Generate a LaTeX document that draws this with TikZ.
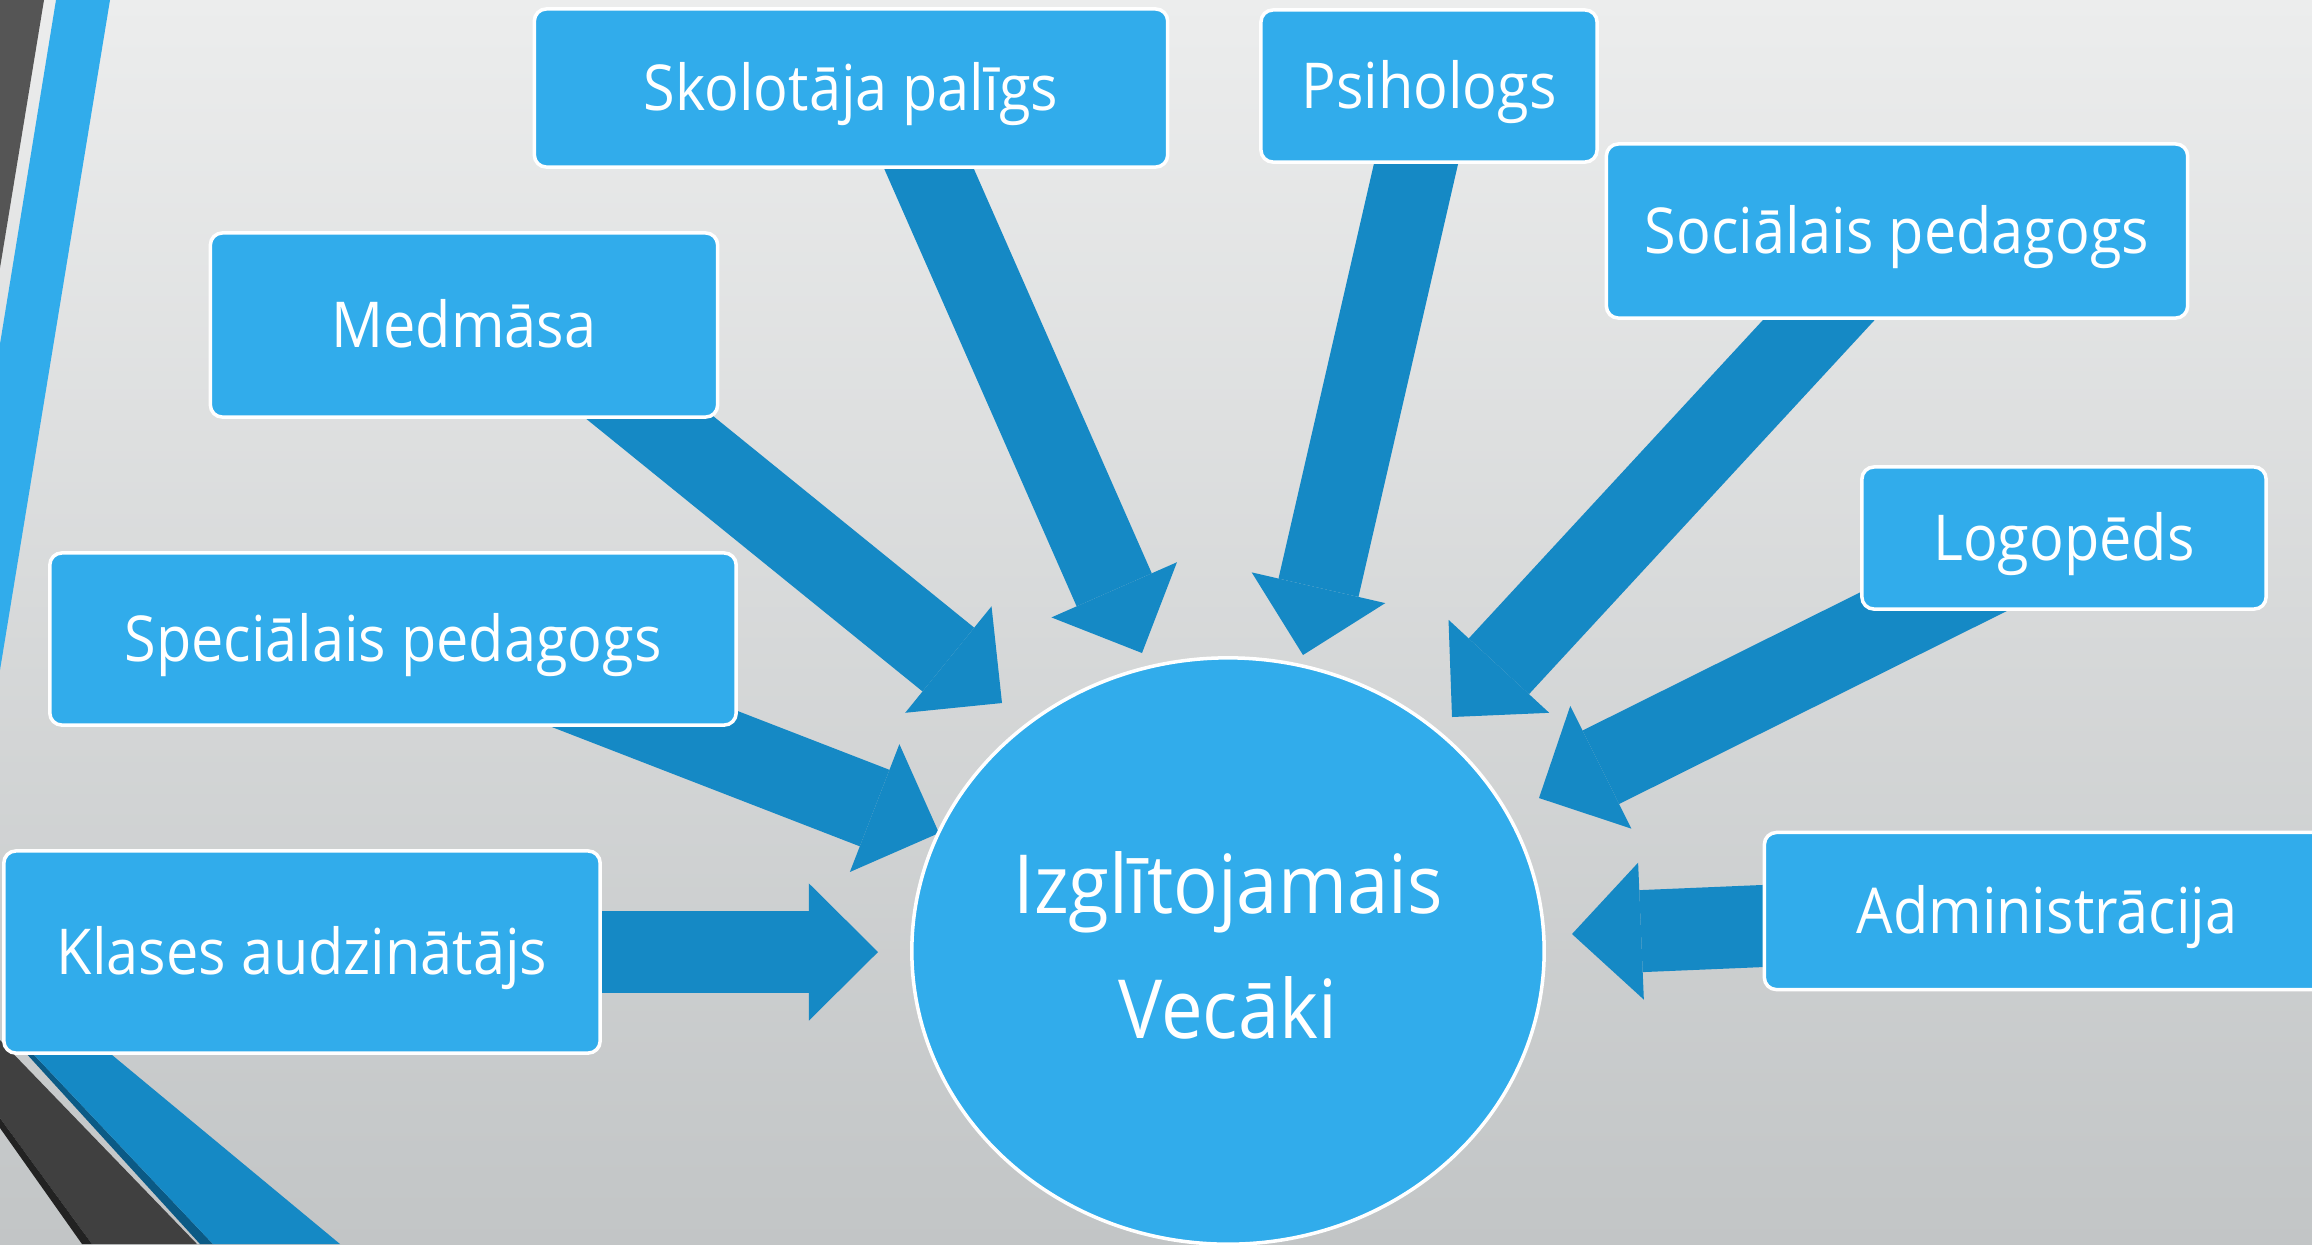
\documentclass[tikz,border=0pt]{standalone}
\usepackage{fontspec}
\setmainfont{Open Sans}[FakeStretch=0.91]
\usetikzlibrary{arrows.meta,shapes.geometric,positioning}

\definecolor{boxblue}{RGB}{49,172,235}
\definecolor{arrowblue}{RGB}{21,137,197}
\definecolor{bandgrey}{RGB}{85,85,85}
\definecolor{banddark}{RGB}{64,64,64}
\definecolor{bandblack}{RGB}{34,34,34}
\definecolor{stripblue}{RGB}{11,90,133}
\definecolor{bgtop}{RGB}{236,237,237}
\definecolor{bgbottom}{RGB}{194,197,198}

\pgfdeclarelayer{bg}
\pgfdeclarelayer{back}
\pgfsetlayers{bg,back,main}

\tikzset{
    box/.style={draw=white, line width=1pt, fill=boxblue, rounded corners=0.12cm,
        text=white, inner sep=0pt, text height=0.56cm, text depth=0.12cm,
        font=\fontsize{18}{22}\selectfont},
    bigarrow/.style={draw=arrowblue, line width=0.82cm,
        -{Triangle[width=1.37cm,length=0.69cm,line width=0pt]}, shorten <=-1.2cm},
}

\begin{document}
\begin{tikzpicture}[x=0.01cm,y=-0.01cm]
    \useasboundingbox (0,0) rectangle (2312,1244);

    % background and side bands
    \begin{pgfonlayer}{bg}
        \shade[top color=bgtop, bottom color=bgbottom] (0,0) rectangle (2312,1244);
        \fill[bandgrey] (0,0) -- (44,0) -- (0,268) -- cycle;
        \fill[boxblue] (56,0) -- (110,0) -- (0,670) -- (0,344) -- cycle;
        \fill[banddark] (0,1040) -- (197,1244) -- (92,1244) -- (0,1118) -- cycle;
        \fill[bandblack] (0,1118) -- (92,1244) -- (82,1244) -- (0,1128) -- cycle;
        \fill[stripblue] (14,1040) -- (200,1244) -- (213,1244) -- (20,1040) -- cycle;
        \fill[arrowblue] (20,1040) -- (213,1244) -- (340,1244) -- (94,1040) -- cycle;
    \end{pgfonlayer}

    \node[ellipse, draw=white, line width=1pt, fill=boxblue, text=white, inner sep=0pt,
        minimum width=6.32cm, minimum height=5.86cm,
        font=\fontsize{23.2}{35.6}\selectfont] (centrs) at (1228,951)
        {\raisebox{0.07cm}{\begin{tabular}{@{}c@{}}Izglītojamais\\Vecāki\end{tabular}}};

    \node[box, minimum width=6.33cm, minimum height=1.58cm] (skolotajs) at (851,88) {Skolotāja palīgs};
    \node[box, minimum width=3.36cm, minimum height=1.52cm] (psihologs) at (1429,86) {Psihologs};
    \node[box, minimum width=5.81cm, minimum height=1.74cm] (socped) at (1897,231) {Sociālais pedagogs};
    \node[box, minimum width=5.07cm, minimum height=1.84cm] (medmasa) at (464,325) {Medmāsa};
    \node[box, minimum width=4.04cm, minimum height=1.42cm] (logopeds) at (2064,538) {Logopēds};
    \node[box, minimum width=6.86cm, minimum height=1.72cm] (specped) at (393,639) {Speciālais pedagogs};
    \node[box, minimum width=5.96cm, minimum height=2.02cm] (audzinatajs) at (302,952) {Klases audzinātājs};
    \node[box, minimum width=5.65cm, minimum height=1.57cm] (admin) at (2047,911) {Administrācija};

    % arrow tips
    \coordinate (tSkol) at (1142,653);
    \coordinate (tPsih) at (1303,655);
    \coordinate (tSoc) at (1452,717);
    \coordinate (tMed) at (1002,703);
    \coordinate (tLogo) at (1539,798);
    \coordinate (tSpec) at (939,833);
    \coordinate (tKlas) at (878,952);
    \coordinate (tAdm) at (1572,934);

    \begin{pgfonlayer}{back}
        \draw[bigarrow] ([xshift=0.78cm]skolotajs.south) -- (tSkol);
        \draw[bigarrow] ([xshift=-0.13cm]psihologs.south) -- (tPsih);
        \draw[bigarrow] ([xshift=-0.78cm]socped.south) -- (tSoc);
        \draw[bigarrow] ([xshift=-0.68cm]medmasa.south east) -- (tMed);
        \draw[bigarrow] ([xshift=0.55cm]logopeds.south west) -- (tLogo);
        \draw[bigarrow] ([xshift=-0.73cm]specped.south east) -- (tSpec);
        \draw[bigarrow] (audzinatajs.east) -- (tKlas);
        \draw[bigarrow] ([yshift=-0.15cm]admin.west) -- (tAdm);
    \end{pgfonlayer}
\end{tikzpicture}
\end{document}
